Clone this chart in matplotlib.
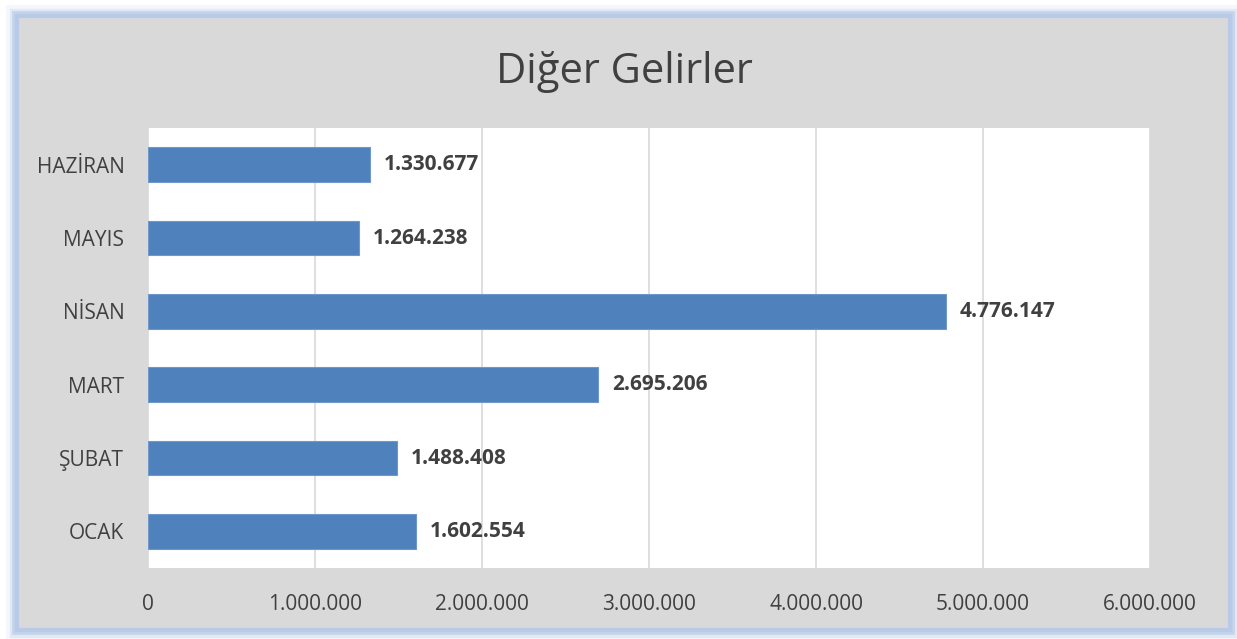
import matplotlib.pyplot as plt
from matplotlib.patches import Rectangle

months = ["OCAK", "ŞUBAT", "MART", "NİSAN", "MAYIS", "HAZİRAN"]
values = [1602554, 1488408, 2695206, 4776147, 1264238, 1330677]
xticks = [0, 1000000, 2000000, 3000000, 4000000, 5000000, 6000000]


def tr_fmt(v):
    return f"{v:,.0f}".replace(",", ".")


plt.rcParams["font.family"] = ["Open Sans", "DejaVu Sans"]

W, H = 1237, 639
fig = plt.figure(figsize=(W / 100, H / 100), dpi=100, facecolor="white")

# outer glow + grey panel
for lw, a in [(16, 0.12), (11, 0.25), (7, 0.5)]:
    fig.patches.append(Rectangle((17 / W, 1 - 630 / H), 1213 / W, 614 / H,
                                 transform=fig.transFigure, facecolor="none",
                                 edgecolor="#a9c1e2", linewidth=lw, alpha=a,
                                 zorder=-3))
fig.patches.append(Rectangle((17 / W, 1 - 630 / H), 1213 / W, 614 / H,
                             transform=fig.transFigure, facecolor="#d9d9d9",
                             edgecolor="#b7cbe8", linewidth=3, zorder=-2))

ax = fig.add_axes([148 / W, 71 / H, 1002 / W, 440 / H])
ax.set_facecolor("white")
ax.barh(range(len(months)), values, height=0.47, color="#4f81bd",
        edgecolor="#6f97cc", linewidth=0.8, zorder=3)

for i, v in enumerate(values):
    ax.annotate(tr_fmt(v), (v, i), xytext=(10, 0), textcoords="offset points",
                va="center", ha="left", fontsize=15, fontweight="bold",
                color="#404040")

ax.set_xlim(0, 6000000)
ax.set_ylim(-0.5, len(months) - 0.5)
ax.set_xticks(xticks)
ax.set_xticklabels([tr_fmt(t) for t in xticks])
ax.set_yticks(range(len(months)))
ax.set_yticklabels(months)
ax.tick_params(axis="x", length=0, pad=19, labelsize=15, labelcolor="#404040")
ax.tick_params(axis="y", length=0, pad=17, labelsize=15, labelcolor="#404040")
ax.grid(axis="x", color="#d9d9d9", linewidth=1.2, zorder=0)
ax.set_axisbelow(True)
for s in ax.spines.values():
    s.set_visible(False)

fig.text(0.505, 1 - 72 / H, "Diğer Gelirler", ha="center", va="center",
         fontsize=30, color="#404040")

fig.savefig("out.png", dpi=100, facecolor=fig.get_facecolor())
